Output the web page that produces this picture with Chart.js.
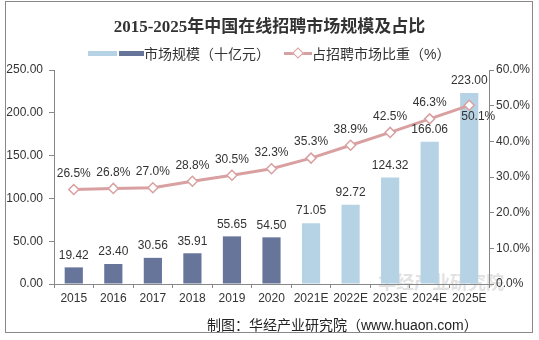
<!DOCTYPE html>
<html>
<head>
<meta charset="utf-8">
<script src="https://cdn.jsdelivr.net/npm/chart.js@4"></script>
<style>
  html, body { margin: 0; padding: 0; background: #fff; }
  .wrap { position: relative; width: 539px; height: 340px; font-family: "Liberation Sans", "Noto Sans CJK SC", sans-serif; color: #333; }
  .frame { position: absolute; left: 5px; top: 1px; width: 528px; height: 332px; border: 1px solid #888; box-sizing: border-box; }
  canvas { position: absolute; left: 0; top: 0; }
  .title { position: absolute; left: 0; top: 12px; width: 539px; text-align: center; font: bold 17px "Liberation Serif", "Noto Sans CJK SC", serif; color: #333; }
  .legend { position: absolute; top: 43px; left: 88px; font-size: 14px; display: flex; align-items: center; white-space: nowrap; }
  .legend .box { display: inline-block; width: 29px; height: 5px; }
  .legend .line { position: relative; display: inline-block; width: 28px; height: 3px; background: #d9a0a1; margin-left: 14px; }
  .legend .dia { position: absolute; left: 10px; top: -3px; width: 6px; height: 6px; background: #fff; border: 1.5px solid #d9a0a1; transform: rotate(45deg); }
  .footer { position: absolute; left: 207px; top: 314px; font-size: 14px; color: #222; white-space: nowrap; }
  .mark { position: absolute; left: 378px; top: 268px; font: bold 18px "Noto Sans CJK SC", sans-serif; color: rgba(190,190,190,0.45); white-space: nowrap; }
</style>
</head>
<body>
<div class="wrap">
  <div class="frame"></div>
  <div class="mark">华经产业研究院</div>
  <canvas id="chart" width="539" height="340"></canvas>
  <div class="title">2015-2025年中国在线招聘市场规模及占比</div>
  <div class="legend">
    <span class="box" style="background:#b5d3e5"></span>
    <span class="box" style="background:#67759b;margin-left:2px;width:25px"></span>
    <span>市场规模（十亿元）</span>
    <span class="line"><span class="dia"></span></span>
    <span>占招聘市场比重（%）</span>
  </div>
  <div class="footer">制图：华经产业研究院（www.huaon.com）</div>
</div>
<script>
// === Data ===
const years = ['2015','2016','2017','2018','2019','2020','2021E','2022E','2023E','2024E','2025E'];
const marketSize = [19.42, 23.40, 30.56, 35.91, 55.65, 54.50, 71.05, 92.72, 124.32, 166.06, 223.00];
const sharePct = [26.5, 26.8, 27.0, 28.8, 30.5, 32.3, 35.3, 38.9, 42.5, 46.3, 50.1];
const leftTicks = [0, 50, 100, 150, 200, 250];
const rightTicks = [0, 10, 20, 30, 40, 50, 60];

const darkBar = '#67759b';
const lightBar = '#b5d3e5';
const pink = '#d9a0a1';
const axisColor = '#888';
const textColor = '#333';

// bars: actual years dark, forecasts (E) light
const barColors = years.map(y => y.endsWith('E') ? lightBar : darkBar);

// draw values above bars and points
const valueLabels = {
  id: 'valueLabels',
  afterDatasetsDraw(chart) {
    const ctx = chart.ctx;
    ctx.save();
    ctx.font = '12px "Liberation Sans", sans-serif';
    ctx.fillStyle = textColor;
    ctx.textAlign = 'center';
    ctx.textBaseline = 'middle';
    // dataset 1 = bars, dataset 0 = line
    chart.getDatasetMeta(1).data.forEach((el, i) => {
      ctx.fillText(marketSize[i].toFixed(2), el.x, el.y - 12);
    });
    const last = sharePct.length - 1;
    chart.getDatasetMeta(0).data.forEach((el, i) => {
      const txt = sharePct[i].toFixed(1) + '%';
      if (i === last) ctx.fillText(txt, el.x + 9, el.y + 11);
      else ctx.fillText(txt, el.x, el.y - 16);
    });
    ctx.restore();
  }
};

new Chart(document.getElementById('chart'), {
  data: {
    labels: years,
    datasets: [
      {
        type: 'line',
        data: sharePct,
        yAxisID: 'y1',
        borderColor: pink,
        borderWidth: 3,
        pointStyle: 'rectRot',
        pointRadius: 5,
        pointBorderWidth: 1.5,
        pointBackgroundColor: '#fff',
        pointBorderColor: pink,
        order: 1
      },
      {
        type: 'bar',
        data: marketSize,
        yAxisID: 'y',
        backgroundColor: barColors,
        barPercentage: 0.46,
        categoryPercentage: 1,
        order: 2
      }
    ]
  },
  options: {
    responsive: false,
    animation: false,
    layout: { padding: { top: 70, left: 0, right: 0, bottom: 0 } },
    plugins: { legend: { display: false }, title: { display: false }, tooltip: { enabled: false } },
    scales: {
      x: {
        offset: true,
        grid: { display: true, drawOnChartArea: false, offset: true, tickLength: 4, color: axisColor },
        border: { color: axisColor },
        ticks: { color: textColor, font: { size: 12, family: 'Liberation Sans' }, padding: 3, maxRotation: 0 },
        afterFit: s => { s.height = 56; }
      },
      y: {
        position: 'left',
        min: 0, max: 250,
        afterBuildTicks: s => { s.ticks = leftTicks.map(v => ({ value: v })); },
        grid: { drawOnChartArea: false, tickLength: 5, color: axisColor },
        border: { color: axisColor },
        ticks: { color: textColor, font: { size: 12, family: 'Liberation Sans' }, padding: 6, callback: v => v.toFixed(2) },
        afterFit: s => { s.width = 54; }
      },
      y1: {
        position: 'right',
        min: 0, max: 60,
        afterBuildTicks: s => { s.ticks = rightTicks.map(v => ({ value: v })); },
        grid: { drawOnChartArea: false, tickLength: 5, color: axisColor },
        border: { color: axisColor },
        ticks: { color: textColor, font: { size: 12, family: 'Liberation Sans' }, padding: 2, callback: v => v.toFixed(1) + '%' },
        afterFit: s => { s.width = 50; }
      }
    }
  },
  plugins: [valueLabels]
});
</script>
</body>
</html>
